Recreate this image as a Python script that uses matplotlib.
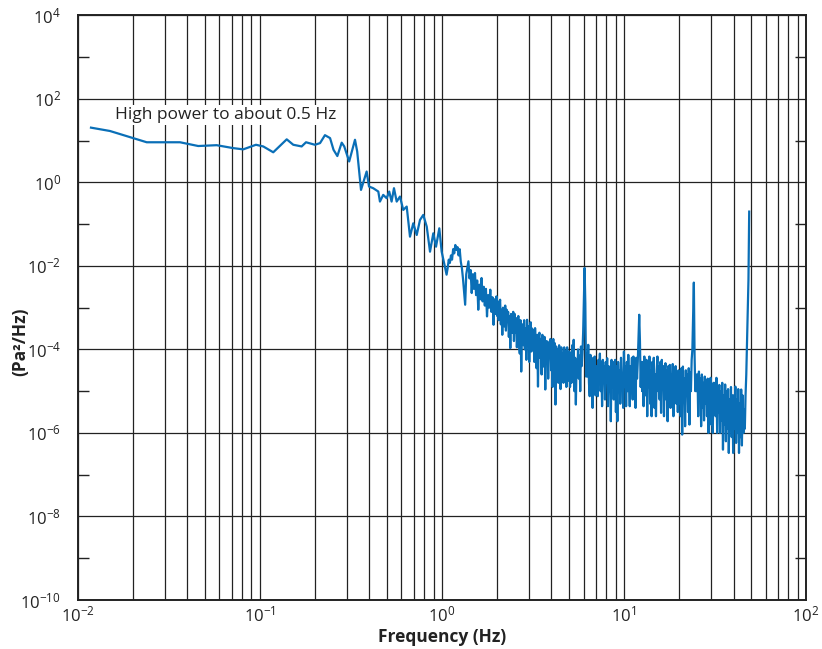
import numpy as np
import matplotlib
matplotlib.use("Agg")
import matplotlib.pyplot as plt
from matplotlib.ticker import LogLocator, FixedLocator, NullFormatter, LogFormatterSciNotation

# ---- data (log10 of frequency in Hz, log10 of PSD in Pa^2/Hz)
# low-frequency smooth part and roll-off
log_freq_low = [
    -1.927, -1.823, -1.695, -1.621, -1.521, -1.438, -1.383, -1.338, -1.237, -1.146,
    -1.091, -1.021, -0.981, -0.926, -0.852, -0.816, -0.770, -0.746, -0.697, -0.669,
    -0.642, -0.614, -0.595, -0.574, -0.550, -0.536, -0.509, -0.477, -0.465,
    -0.444, -0.413, -0.400, -0.377, -0.349, -0.340, -0.322, -0.303, -0.289, -0.276,
    -0.263, -0.248, -0.230, -0.212, -0.193, -0.175, -0.157, -0.138, -0.120, -0.102,
    -0.083, -0.065, -0.047, -0.032, -0.014, -0.001,
    0.026, 0.032, 0.038, 0.044, 0.050, 0.056, 0.062, 0.068, 0.074, 0.080,
    0.086, 0.092, 0.098, 0.104, 0.110, 0.116, 0.122, 0.128, 0.134, 0.140,
    0.146, 0.152, 0.158, 0.164, 0.170, 0.176, 0.182, 0.188, 0.194, 0.200,
    0.206, 0.212, 0.218, 0.224, 0.230, 0.236, 0.242, 0.248, 0.254, 0.260,
    0.266, 0.272, 0.278, 0.284, 0.290, 0.296,
]
log_psd_low = [
    1.31, 1.23, 1.06, 0.96, 0.96, 0.96, 0.91, 0.87, 0.89, 0.82,
    0.79, 0.90, 0.86, 0.72, 1.03, 0.90, 0.86, 0.96, 0.90, 0.94,
    1.13, 1.06, 0.78, 0.63, 0.95, 0.86, 0.50, 1.02, 0.74,
    -0.18, 0.26, -0.10, -0.14, -0.22, -0.46, -0.30, -0.38, -0.22, -0.46,
    -0.14, -0.46, -0.34, -0.66, -0.58, -1.30, -0.98, -1.26, -0.90, -0.78,
    -1.06, -1.66, -1.22, -1.54, -1.10, -1.66,
    -2.21, -2.05, -1.85, -1.93, -1.75, -1.85, -1.60, -1.70, -1.50, -1.62,
    -1.55, -1.75, -1.60, -1.90, -2.05, -2.30, -2.60, -2.93, -2.20, -2.05,
    -1.89, -2.30, -2.10, -2.65, -2.20, -2.55, -2.17, -2.70, -2.35, -3.05,
    -2.45, -2.80, -2.29, -2.85, -2.50, -2.95, -2.55, -3.21, -2.70, -3.00,
    -2.57, -3.10, -2.75, -3.41, -2.80, -3.15,
]

# noisy floor from ~2 Hz to the 50 Hz line
log_freq_floor = [
    0.300, 0.304, 0.308, 0.312, 0.316, 0.320, 0.324, 0.328, 0.332, 0.336, 0.340, 0.344, 0.348,
    0.352, 0.356, 0.360, 0.364, 0.368, 0.372, 0.376, 0.380, 0.384, 0.388, 0.392, 0.396,
    0.400, 0.404, 0.408, 0.412, 0.416, 0.420, 0.424, 0.428, 0.432, 0.436, 0.440, 0.444, 0.448,
    0.452, 0.456, 0.460, 0.464, 0.468, 0.472, 0.476, 0.480, 0.484, 0.488, 0.492, 0.496,
    0.500, 0.504, 0.508, 0.512, 0.516, 0.520, 0.524, 0.528, 0.532, 0.536, 0.540, 0.544, 0.548,
    0.552, 0.556, 0.560, 0.564, 0.568, 0.572, 0.576, 0.580, 0.584, 0.588, 0.592, 0.596,
    0.600, 0.604, 0.608, 0.612, 0.616, 0.620, 0.624, 0.628, 0.632, 0.636, 0.640, 0.644, 0.648,
    0.652, 0.656, 0.660, 0.664, 0.668, 0.672, 0.676, 0.680, 0.684, 0.688, 0.692, 0.696,
    0.700, 0.704, 0.708, 0.712, 0.716, 0.720, 0.724, 0.728, 0.732, 0.736, 0.740, 0.744, 0.748,
    0.752, 0.756, 0.760, 0.764, 0.768, 0.772, 0.776, 0.780, 0.784, 0.788, 0.792, 0.796,
    0.800, 0.804, 0.808, 0.812, 0.816, 0.820, 0.824, 0.828, 0.832, 0.836, 0.840, 0.844, 0.848,
    0.852, 0.856, 0.860, 0.864, 0.868, 0.872, 0.876, 0.880, 0.884, 0.888, 0.892, 0.896,
    0.900, 0.904, 0.908, 0.912, 0.916, 0.920, 0.924, 0.928, 0.932, 0.936, 0.940, 0.944, 0.948,
    0.952, 0.956, 0.960, 0.964, 0.968, 0.972, 0.976, 0.980, 0.984, 0.988, 0.992, 0.996,
    1.000, 1.004, 1.008, 1.012, 1.016, 1.020, 1.024, 1.028, 1.032, 1.036, 1.040, 1.044, 1.048,
    1.052, 1.056, 1.060, 1.064, 1.068, 1.072, 1.076, 1.080, 1.084, 1.088, 1.092, 1.096,
    1.100, 1.104, 1.108, 1.112, 1.116, 1.120, 1.124, 1.128, 1.132, 1.136, 1.140, 1.144, 1.148,
    1.152, 1.156, 1.160, 1.164, 1.168, 1.172, 1.176, 1.180, 1.184, 1.188, 1.192, 1.196,
    1.200, 1.204, 1.208, 1.212, 1.216, 1.220, 1.224, 1.228, 1.232, 1.236, 1.240, 1.244, 1.248,
    1.252, 1.256, 1.260, 1.264, 1.268, 1.272, 1.276, 1.280, 1.284, 1.288, 1.292, 1.296,
    1.300, 1.304, 1.308, 1.312, 1.316, 1.320, 1.324, 1.328, 1.332, 1.336, 1.340, 1.344, 1.348,
    1.352, 1.356, 1.360, 1.364, 1.368, 1.372, 1.376, 1.380, 1.384, 1.388, 1.392, 1.396,
    1.400, 1.404, 1.408, 1.412, 1.416, 1.420, 1.424, 1.428, 1.432, 1.436, 1.440, 1.444, 1.448,
    1.452, 1.456, 1.460, 1.464, 1.468, 1.472, 1.476, 1.480, 1.484, 1.488, 1.492, 1.496,
    1.500, 1.504, 1.508, 1.512, 1.516, 1.520, 1.524, 1.528, 1.532, 1.536, 1.540, 1.544, 1.548,
    1.552, 1.556, 1.560, 1.564, 1.568, 1.572, 1.576, 1.580, 1.584, 1.588, 1.592, 1.596,
    1.600, 1.604, 1.608, 1.612, 1.616, 1.620, 1.624, 1.628, 1.632, 1.636, 1.640, 1.644, 1.648,
    1.652, 1.656, 1.660, 1.664, 1.668, 1.672, 1.676, 1.680, 1.684, 1.688,
]
log_psd_floor = [
    -2.73, -3.20, -2.85, -3.30, -2.95, -2.81, -3.40, -3.05, -3.65, -3.00, -3.25, -3.45, -2.95,
    -3.55, -3.05, -3.30, -3.10, -3.70, -3.20, -3.97, -3.15, -3.40, -3.60, -3.10, -3.80,
    -3.15, -3.60, -3.25, -3.95, -3.50, -3.20, -3.85, -4.10, -3.30, -4.53, -3.60, -3.40, -3.90,
    -3.30, -4.00, -3.50, -4.25, -3.29, -3.80, -3.45, -4.30, -3.60, -3.35, -4.05, -3.50,
    -4.01, -3.55, -4.30, -3.49, -3.90, -4.45, -3.65, -4.89, -3.70, -3.60, -4.20, -3.75, -4.60,
    -3.65, -4.10, -4.41, -3.70, -4.96, -3.80, -4.30, -3.81, -4.70, -3.90, -4.20, -3.75,
    -4.50, -3.80, -4.90, -3.75, -4.30, -3.85, -5.32, -3.93, -4.55, -4.00, -4.80, -3.90, -4.40,
    -4.95, -3.95, -4.37, -4.10, -4.80, -3.95, -4.60, -4.05, -4.90, -3.95, -4.30, -4.75,
    -4.05, -4.90, -4.10, -4.80, -3.90, -4.50, -3.77, -5.00, -4.20, -5.32, -4.25, -4.60, -4.00,
    -4.70, -4.15, -5.00, -3.93, -4.40, -4.10, -3.60, -2.81, -2.05, -2.90, -4.65, -4.10,
    -4.65, -3.89, -4.80, -5.12, -4.13, -4.70, -4.30, -5.40, -4.20, -4.90, -4.17, -5.10, -4.40,
    -4.90, -5.12, -4.25, -4.60, -4.10, -5.00, -4.30, -5.36, -4.25, -4.80, -4.40, -5.20,
    -4.30, -4.80, -4.21, -5.36, -4.40, -5.00, -4.50, -5.72, -4.25, -4.90, -4.30, -5.20, -4.60,
    -4.25, -5.50, -4.40, -5.72, -4.30, -4.90, -4.50, -5.30, -4.20, -4.80, -4.60, -5.40,
    -4.05, -4.90, -4.40, -5.36, -4.30, -5.00, -4.13, -4.80, -5.36, -4.40, -4.70, -4.20, -5.20,
    -4.17, -4.90, -4.50, -5.40, -4.20, -4.70, -4.30, -3.77, -3.17, -3.80, -4.90, -4.30,
    -5.00, -4.30, -5.36, -4.17, -4.80, -5.10, -4.25, -5.60, -4.40, -4.90, -4.17, -5.30, -4.50,
    -5.60, -4.30, -4.80, -4.20, -5.40, -4.60, -5.60, -4.50, -4.17, -5.00, -4.40, -5.20,
    -4.30, -5.52, -4.25, -4.90, -4.40, -5.60, -4.60, -4.33, -5.20, -4.50, -5.72, -4.40, -4.80,
    -4.37, -5.40, -4.60, -5.00, -4.35, -5.60, -4.50, -4.90, -4.40, -5.30, -4.60, -5.50,
    -4.50, -5.30, -4.60, -5.60, -4.45, -6.04, -4.41, -5.20, -4.70, -5.84, -4.50, -5.10, -4.60,
    -5.50, -4.45, -5.80, -4.55, -5.00, -4.25, -4.00, -3.20, -2.40, -4.13, -5.00, -4.60,
    -5.00, -4.60, -5.60, -4.53, -5.20, -4.70, -5.84, -4.60, -5.40, -4.80, -5.70, -4.65, -5.30,
    -4.75, -5.60, -4.70, -6.00, -4.80, -5.40, -4.68, -5.80, -4.90, -6.00, -4.80, -5.50,
    -4.80, -5.60, -4.68, -6.00, -4.90, -5.50, -4.85, -6.00, -5.00, -5.70, -4.80, -6.40, -5.10,
    -5.80, -4.84, -6.20, -5.00, -5.90, -4.95, -6.48, -5.20, -5.70, -4.90, -6.10, -5.10,
    -6.48, -5.10, -5.90, -4.89, -6.24, -5.20, -6.00, -4.95, -6.48, -5.30, -6.10, -4.96, -6.30,
    -5.10, -6.00, -5.44, -5.90, -5.10, -4.60, -3.85, -3.00, -2.33, -0.70,
]

x_decades = [-2, -1, 0, 1, 2]
y_decades = [-10, -8, -6, -4, -2, 0, 2, 4]
y_minor_decades = [-9, -7, -5, -3, -1, 1, 3]
annotation = "High power to about 0.5 Hz"
x_label = "Frequency (Hz)"
y_label = "(Pa²/Hz)"

freq = 10.0 ** np.array(log_freq_low + log_freq_floor)
psd = 10.0 ** np.array(log_psd_low + log_psd_floor)

plt.rcParams["font.family"] = ["Open Sans", "DejaVu Sans"]
plt.rcParams["mathtext.fontset"] = "custom"
plt.rcParams["mathtext.rm"] = "Open Sans"
plt.rcParams["mathtext.it"] = "Open Sans"
plt.rcParams["mathtext.bf"] = "Open Sans:bold"

fig = plt.figure(figsize=(8.22, 6.49), dpi=100)
ax = fig.add_axes([77.7 / 822, 1 - 600 / 649, (806 - 77.7) / 822, (600 - 15.3) / 649])

ax.plot(freq, psd, color="#0a6fb7", lw=1.6, zorder=3)

ax.set_xscale("log")
ax.set_yscale("log")
ax.set_xlim(10.0 ** x_decades[0], 10.0 ** x_decades[-1])
ax.set_ylim(10.0 ** y_decades[0], 10.0 ** y_decades[-1])

ax.xaxis.set_major_locator(FixedLocator([10.0 ** d for d in x_decades]))
ax.xaxis.set_minor_locator(LogLocator(base=10, subs=np.arange(2, 10), numticks=20))
ax.xaxis.set_minor_formatter(NullFormatter())
ax.xaxis.set_major_formatter(LogFormatterSciNotation())
ax.yaxis.set_major_locator(FixedLocator([10.0 ** d for d in y_decades]))
ax.yaxis.set_minor_locator(FixedLocator([10.0 ** d for d in y_minor_decades]))
ax.yaxis.set_minor_formatter(NullFormatter())
ax.yaxis.set_major_formatter(LogFormatterSciNotation())

ax.grid(True, which="both", axis="x", color="#222222", lw=0.9)
ax.grid(True, which="major", axis="y", color="#222222", lw=0.9)
ax.set_axisbelow(True)

ax.tick_params(axis="x", which="both", length=0, labelsize=12, pad=4, colors="#222222")
ax.tick_params(axis="y", which="major", length=0, labelsize=12, pad=12, colors="#222222")
ax.tick_params(axis="y", which="minor", direction="in", length=8, width=1.0,
               left=True, right=True, color="#222222")

for s in ax.spines.values():
    s.set_linewidth(1.4)
    s.set_color("#222222")

ax.text(10 ** (-2 + (115 - 77.7) / 182.1), 10 ** (4 - (115 - 15.3) / 41.8), annotation,
        fontsize=12.5, color="#222222", va="center", ha="left", zorder=4,
        bbox=dict(facecolor="white", edgecolor="none", pad=1.5))

fig.text(442 / 822, 1 - 637 / 649, x_label, ha="center", va="center",
         fontsize=12.5, fontweight="bold", color="#222222")
fig.text(20 / 822, 1 - 342 / 649, y_label, ha="center", va="center", rotation=90,
         fontsize=12.5, fontweight="bold", color="#222222")

fig.savefig("out.png", dpi=100)
